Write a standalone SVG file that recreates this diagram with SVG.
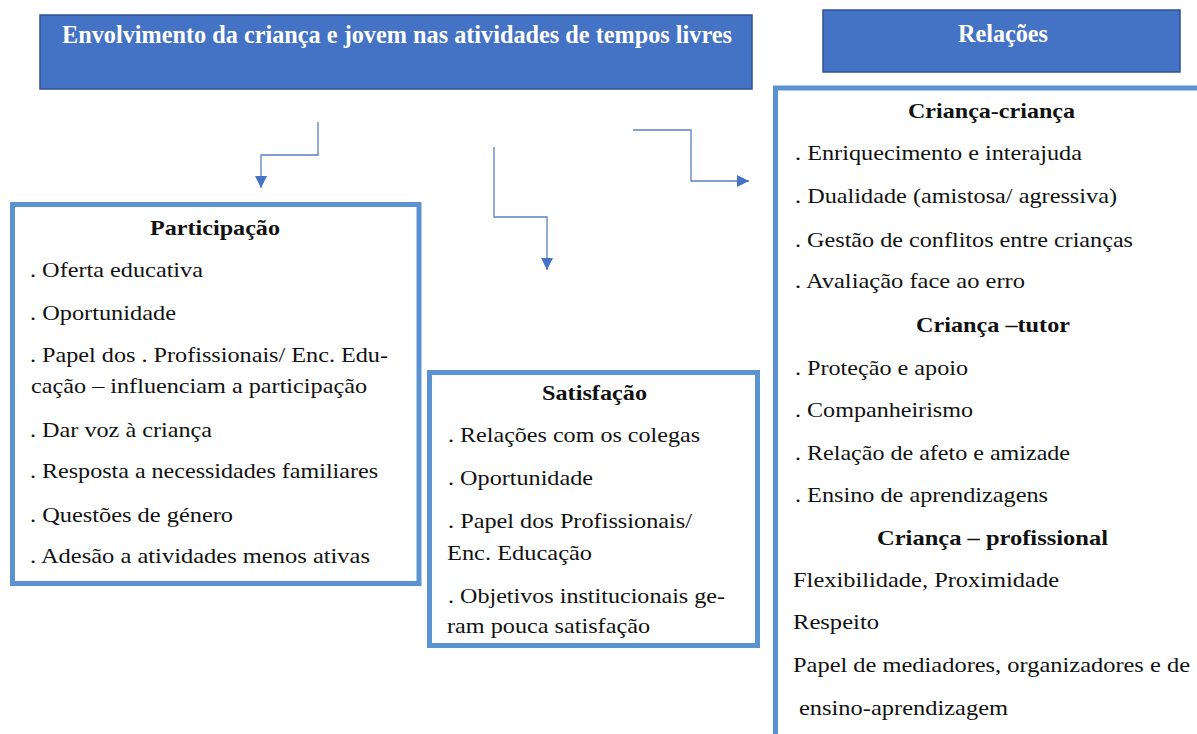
<svg xmlns="http://www.w3.org/2000/svg" width="1197" height="734" viewBox="0 0 1197 734">
<style>
.hdr{fill:#4472C4;stroke:#2F528F;stroke-width:1.5}
.hdrt{font-weight:bold;fill:#FFFFFF}
.box{fill:#FFFFFF;stroke:#5B93D0;stroke-width:5}
.t{fill:#111111}
.b{font-weight:bold;fill:#111111;text-anchor:middle}
.conn{fill:none;stroke:#5B7FC6;stroke-width:1.3}
</style>
<defs>
<marker id="ah" markerUnits="userSpaceOnUse" markerWidth="14" markerHeight="14" refX="12" refY="6" orient="auto">
<path d="M0,0 L12,6 L0,12 Z" fill="#4472C4"/>
</marker>
</defs>
<rect width="1197" height="734" fill="#FFFFFF"/>
<g id="envolvimento" font-family="Liberation Serif">
<rect class="hdr" x="40" y="15" width="712" height="74"/>
<text class="hdrt" font-size="26" x="62" y="43" textLength="670" lengthAdjust="spacingAndGlyphs">Envolvimento da criança e jovem nas atividades de tempos livres</text>
</g>
<g id="relacoes-header" font-family="Liberation Serif">
<rect class="hdr" x="823" y="10" width="357" height="62"/>
<text class="hdrt" font-size="25" x="958" y="42" textLength="90" lengthAdjust="spacingAndGlyphs">Relações</text>
</g>
<g id="connectors">
<path class="conn" d="M318,122 V155 H261 V188" marker-end="url(#ah)"/>
<path class="conn" d="M494,147 V217 H547 V270" marker-end="url(#ah)"/>
<path class="conn" d="M633,130 H691 V181 H749" marker-end="url(#ah)"/>
</g>
<g id="participacao" font-family="Liberation Serif" font-size="22">
<rect class="box" x="12.5" y="204.5" width="406.5" height="379"/>
<text class="b" x="215" y="235" textLength="130" lengthAdjust="spacingAndGlyphs">Participação</text>
<text class="t" x="30" y="277" textLength="173" lengthAdjust="spacingAndGlyphs">. Oferta educativa</text>
<text class="t" x="30" y="320" textLength="146" lengthAdjust="spacingAndGlyphs">. Oportunidade</text>
<text class="t" x="30" y="362" textLength="358" lengthAdjust="spacingAndGlyphs">. Papel dos . Profissionais/  Enc. Edu-</text>
<text class="t" x="31" y="393" textLength="336" lengthAdjust="spacingAndGlyphs">cação – influenciam a participação</text>
<text class="t" x="30" y="437" textLength="182" lengthAdjust="spacingAndGlyphs">. Dar voz à criança</text>
<text class="t" x="30" y="478" textLength="348" lengthAdjust="spacingAndGlyphs">. Resposta a necessidades familiares</text>
<text class="t" x="30" y="522" textLength="203" lengthAdjust="spacingAndGlyphs">. Questões de género</text>
<text class="t" x="30" y="563" textLength="340" lengthAdjust="spacingAndGlyphs">. Adesão a atividades menos ativas</text>
</g>
<g id="satisfacao" font-family="Liberation Serif" font-size="22">
<rect class="box" x="429.5" y="372.5" width="328" height="273"/>
<text class="b" x="594.5" y="400" textLength="105" lengthAdjust="spacingAndGlyphs">Satisfação</text>
<text class="t" x="448" y="442" textLength="252" lengthAdjust="spacingAndGlyphs">. Relações com os colegas</text>
<text class="t" x="448" y="485" textLength="145" lengthAdjust="spacingAndGlyphs">. Oportunidade</text>
<text class="t" x="448" y="528" textLength="244" lengthAdjust="spacingAndGlyphs">. Papel dos Profissionais/</text>
<text class="t" x="447" y="560" textLength="145" lengthAdjust="spacingAndGlyphs">Enc. Educação</text>
<text class="t" x="448" y="603" textLength="277" lengthAdjust="spacingAndGlyphs">. Objetivos institucionais ge-</text>
<text class="t" x="447" y="633" textLength="203" lengthAdjust="spacingAndGlyphs">ram pouca satisfação</text>
</g>
<g id="relacoes" font-family="Liberation Serif" font-size="22">
<rect class="box" x="775.5" y="88" width="440" height="660"/>
<text class="b" x="991.5" y="118" textLength="167" lengthAdjust="spacingAndGlyphs">Criança-criança</text>
<text class="t" x="795" y="160" textLength="287" lengthAdjust="spacingAndGlyphs">. Enriquecimento e interajuda</text>
<text class="t" x="795" y="203" textLength="322" lengthAdjust="spacingAndGlyphs">. Dualidade (amistosa/ agressiva)</text>
<text class="t" x="795" y="247" textLength="338" lengthAdjust="spacingAndGlyphs">. Gestão de conflitos entre crianças</text>
<text class="t" x="795" y="288" textLength="230" lengthAdjust="spacingAndGlyphs">. Avaliação face ao erro</text>
<text class="b" x="993" y="332" textLength="154" lengthAdjust="spacingAndGlyphs">Criança –tutor</text>
<text class="t" x="795" y="375" textLength="173" lengthAdjust="spacingAndGlyphs">. Proteção e apoio</text>
<text class="t" x="795" y="417" textLength="178" lengthAdjust="spacingAndGlyphs">. Companheirismo</text>
<text class="t" x="795" y="460" textLength="275" lengthAdjust="spacingAndGlyphs">. Relação de afeto e amizade</text>
<text class="t" x="795" y="502" textLength="253" lengthAdjust="spacingAndGlyphs">. Ensino de aprendizagens</text>
<text class="b" x="992.5" y="545" textLength="231" lengthAdjust="spacingAndGlyphs">Criança – profissional</text>
<text class="t" x="793" y="587" textLength="266" lengthAdjust="spacingAndGlyphs">Flexibilidade, Proximidade</text>
<text class="t" x="793" y="629" textLength="86" lengthAdjust="spacingAndGlyphs">Respeito</text>
<text class="t" x="793" y="672" textLength="397" lengthAdjust="spacingAndGlyphs">Papel de mediadores, organizadores e de</text>
<text class="t" x="799" y="715" textLength="209" lengthAdjust="spacingAndGlyphs">ensino-aprendizagem</text>
</g>
</svg>
